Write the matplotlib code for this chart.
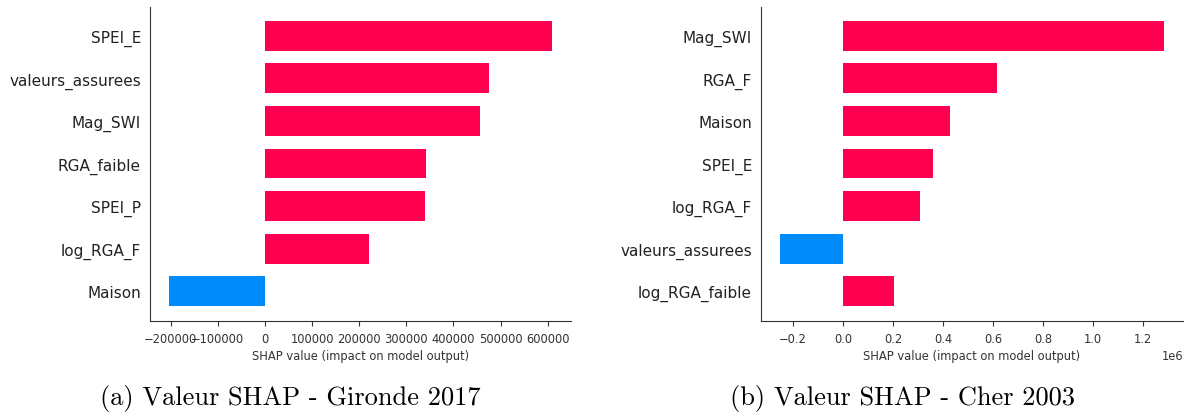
import matplotlib.pyplot as plt
import numpy as np

# Gironde 2017
features_a = ['SPEI_E', 'valeurs_assurees', 'Mag_SWI', 'RGA_faible', 'SPEI_P', 'log_RGA_F', 'Maison']
shap_a = [610000, 476000, 457000, 342000, 340000, 220000, -204000]

# Cher 2003
features_b = ['Mag_SWI', 'RGA_F', 'Maison', 'SPEI_E', 'log_RGA_F', 'valeurs_assurees', 'log_RGA_faible']
shap_b = [1284000, 616000, 428000, 360000, 308000, -252000, 204000]

captions = ['(a) Valeur SHAP - Gironde 2017', '(b) Valeur SHAP - Cher 2003']

RED = '#ff0051'
BLUE = '#008bfb'


def shap_bar(ax, names, values, xlim):
    n = len(names)
    y = np.arange(n)[::-1]
    colors = [RED if v > 0 else BLUE for v in values]
    ax.barh(y, values, height=0.7, color=colors)
    ax.set_yticks(y)
    ax.set_yticklabels(names, fontsize=11)
    ax.set_ylim(-0.7, n - 1 + 0.68)
    ax.set_xlim(*xlim)
    ax.spines['top'].set_visible(False)
    ax.spines['right'].set_visible(False)
    ax.spines['left'].set_color('#333333')
    ax.spines['bottom'].set_color('#333333')
    ax.tick_params(axis='y', length=0, pad=6.5, colors='#222222')
    ax.tick_params(axis='x', labelsize=8.3, pad=4.5, colors='#333333')
    ax.set_xlabel('SHAP value (impact on model output)', fontsize=8.3,
                  color='#333333', labelpad=3)
    ax.xaxis.get_offset_text().set_fontsize(8.3)


fig = plt.figure(figsize=(11.9, 4.14), dpi=100)
ax1 = fig.add_axes([0.126, 0.222, 0.354, 0.759])
ax2 = fig.add_axes([0.6395, 0.222, 0.3546, 0.759])

shap_bar(ax1, features_a, shap_a, (-244000, 650000))
shap_bar(ax2, features_b, shap_b, (-328000, 1360000))

fig.text(0.244, 0.038, captions[0], ha='center', va='center', fontsize=19, family='cmr10')
fig.text(0.758, 0.038, captions[1], ha='center', va='center', fontsize=19, family='cmr10')

fig.savefig('out.png', dpi=100)
